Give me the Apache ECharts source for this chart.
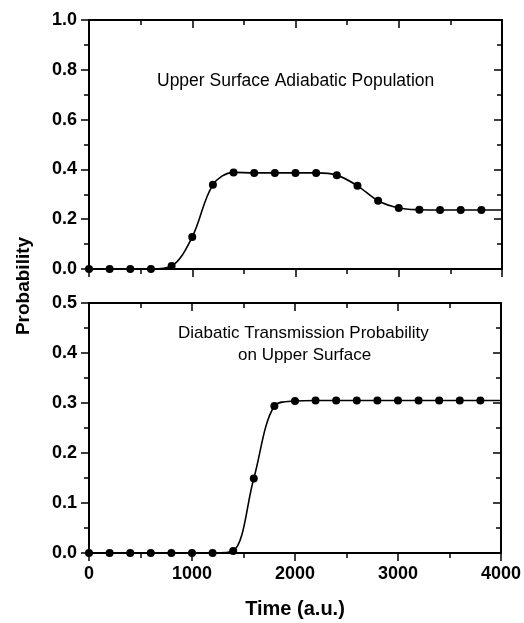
<!DOCTYPE html>
<html>
<head>
<meta charset="utf-8">
<script src="https://cdn.jsdelivr.net/npm/echarts@6/dist/echarts.min.js"></script>
<style>
html,body{margin:0;padding:0;background:#fff;}
#c{width:524px;height:623px;}
</style>
</head>
<body>
<div id="c"></div>
<script>
// Data
var times = [0,200,400,600,800,1000,1200,1400,1600,1800,2000,2200,2400,2600,2800,3000,3200,3400,3600,3800,4000];
var upperAdiabatic = [0,0,0,0,0.012,0.129,0.338,0.388,0.386,0.386,0.386,0.386,0.377,0.334,0.274,0.245,0.238,0.237,0.237,0.237,0.237];
var diabaticTransmission = [0,0,0,0,0,0,0,0.004,0.149,0.294,0.304,0.305,0.305,0.305,0.305,0.305,0.305,0.305,0.305,0.305,0.305];
var xTicks = [0,1000,2000,3000,4000];
var topYTicks = [0,0.2,0.4,0.6,0.8,1.0];
var bottomYTicks = [0,0.1,0.2,0.3,0.4,0.5];
var topLabel = 'Upper Surface Adiabatic Population';
var bottomLabel = ['Diabatic Transmission Probability', 'on Upper Surface'];
var xName = 'Time (a.u.)';
var yName = 'Probability';

var FONT = '"Liberation Sans", Arial, Helvetica, sans-serif';

function toData(vals) {
  return times.map(function (t, i) {
    var item = { value: [t, vals[i]] };
    if (t > 3800) item.symbolSize = 0;
    return item;
  });
}

function xAxes(gridIndex, showLabels) {
  var common = {
    type: 'value', gridIndex: gridIndex, min: xTicks[0], max: xTicks[xTicks.length - 1], interval: 1000,
    axisLine: { show: true, onZero: false, lineStyle: { color: '#000', width: 2 } },
    splitLine: { show: false },
    minorTick: { show: true, splitNumber: 2, length: 5, lineStyle: { color: '#000', width: 1.5 } }
  };
  return [
    Object.assign({}, common, {
      position: 'bottom',
      axisTick: { show: true, inside: false, length: 8, lineStyle: { color: '#000', width: 1.5 } },
      axisLabel: { show: showLabels, color: '#000', fontFamily: FONT, fontWeight: 'bold', fontSize: 18, margin: 12,
        formatter: function (v) { return String(v); } },
      name: showLabels ? xName : '', nameLocation: 'middle', nameGap: 46,
      nameTextStyle: { color: '#000', fontFamily: FONT, fontWeight: 'bold', fontSize: 20 }
    }),
    Object.assign({}, common, {
      position: 'top',
      axisTick: { show: true, inside: true, length: 8, lineStyle: { color: '#000', width: 1.5 } },
      axisLabel: { show: false }
    })
  ];
}

function yAxes(gridIndex, ticks, interval) {
  var common = {
    type: 'value', gridIndex: gridIndex, min: ticks[0], max: ticks[ticks.length - 1], interval: interval,
    axisLine: { show: true, onZero: false, lineStyle: { color: '#000', width: 2 } },
    splitLine: { show: false },
    minorTick: { show: true, splitNumber: 2, length: 5, lineStyle: { color: '#000', width: 1.5 } }
  };
  return [
    Object.assign({}, common, {
      position: 'left',
      axisTick: { show: true, inside: false, length: 8, lineStyle: { color: '#000', width: 1.5 } },
      axisLabel: { show: true, color: '#000', fontFamily: FONT, fontWeight: 'bold', fontSize: 18, margin: 12,
        formatter: function (v) { return v.toFixed(1); } }
    }),
    Object.assign({}, common, {
      position: 'right',
      axisTick: { show: true, inside: true, length: 8, lineStyle: { color: '#000', width: 1.5 } },
      axisLabel: { show: false }
    })
  ];
}

function series(xi, yi, vals) {
  return {
    type: 'line', xAxisIndex: xi, yAxisIndex: yi,
    data: toData(vals),
    smooth: 0.35,
    symbol: 'circle', symbolSize: 8,
    itemStyle: { color: '#000' },
    lineStyle: { color: '#000', width: 1.6 },
    animation: false
  };
}

var chart = echarts.init(document.getElementById('c'), null, { renderer: 'canvas' });
chart.setOption({
  backgroundColor: '#fff',
  animation: false,
  grid: [
    { left: 89, right: 22, top: 20, height: 249 },
    { left: 89, right: 22, top: 303, height: 250 }
  ],
  xAxis: xAxes(0, false).concat(xAxes(1, true)),
  yAxis: yAxes(0, topYTicks, 0.2).concat(yAxes(1, bottomYTicks, 0.1)),
  series: [
    series(0, 0, upperAdiabatic),
    series(2, 2, diabaticTransmission)
  ],
  graphic: [
    { type: 'text', left: 157, top: 72, style: { text: topLabel, fill: '#000', font: '17.5px ' + FONT }, z: 10 },
    { type: 'text', left: 178, top: 325, style: { text: bottomLabel[0], fill: '#000', font: '17px ' + FONT }, z: 10 },
    { type: 'text', left: 238, top: 347, style: { text: bottomLabel[1], fill: '#000', font: '17px ' + FONT }, z: 10 },
    { type: 'text', x: 14, y: 286, rotation: Math.PI / 2,
      style: { text: yName, fill: '#000', font: 'bold 19px ' + FONT, textAlign: 'center', textVerticalAlign: 'top' }, z: 10 }
  ]
});
</script>
</body>
</html>
